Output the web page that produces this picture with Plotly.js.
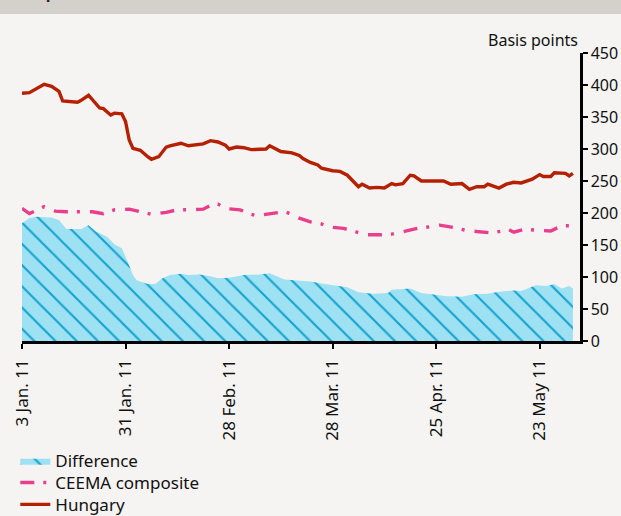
<!DOCTYPE html>
<html>
<head>
<meta charset="utf-8">
<script src="https://cdn.plot.ly/plotly-3.0.1.min.js"></script>
<style>html,body{margin:0;padding:0;background:#f5f4f2;}#chart{width:621px;height:516px;}</style>
</head>
<body>
<div id="chart"></div>
<script>
// Hungary CDS spread (basis points)
const hungaryDates = ['2011-01-03','2011-01-05','2011-01-09','2011-01-11','2011-01-13','2011-01-14','2011-01-18','2011-01-19','2011-01-21','2011-01-23','2011-01-24','2011-01-25','2011-01-27','2011-01-28','2011-01-30','2011-01-31','2011-02-01','2011-02-02','2011-02-04','2011-02-06','2011-02-07','2011-02-09','2011-02-11','2011-02-12','2011-02-15','2011-02-17','2011-02-20','2011-02-21','2011-02-23','2011-02-25','2011-02-27','2011-02-28','2011-03-02','2011-03-04','2011-03-06','2011-03-10','2011-03-11','2011-03-14','2011-03-17','2011-03-19','2011-03-20','2011-03-22','2011-03-24','2011-03-25','2011-03-28','2011-03-30','2011-04-01','2011-04-03','2011-04-04','2011-04-05','2011-04-07','2011-04-09','2011-04-11','2011-04-13','2011-04-14','2011-04-16','2011-04-18','2011-04-19','2011-04-21','2011-04-24','2011-04-27','2011-04-29','2011-05-02','2011-05-04','2011-05-06','2011-05-08','2011-05-09','2011-05-12','2011-05-14','2011-05-16','2011-05-18','2011-05-21','2011-05-23','2011-05-24','2011-05-26','2011-05-27','2011-05-30','2011-05-31','2011-06-01'];
const hungaryValues = [387,388,401,398,390,375,373,376,384,371,364,363,353,356,355,343,314,301,298,288,284,288,303,305,309,305,307,308,313,311,306,300,303,302,299,300,305,296,294,290,285,279,275,270,266,265,259,246,241,245,239,240,239,246,244,246,259,258,250,250,250,245,246,237,241,241,245,239,245,248,247,253,260,257,257,263,262,258,262];

// CEEMA composite (basis points)
const ceemaDates = ['2011-01-03','2011-01-05','2011-01-09','2011-01-12','2011-01-15','2011-01-19','2011-01-22','2011-01-25','2011-01-28','2011-02-01','2011-02-04','2011-02-07','2011-02-11','2011-02-14','2011-02-18','2011-02-21','2011-02-24','2011-02-25','2011-02-27','2011-03-03','2011-03-06','2011-03-08','2011-03-09','2011-03-12','2011-03-15','2011-03-17','2011-03-19','2011-03-22','2011-03-25','2011-03-27','2011-03-31','2011-04-03','2011-04-06','2011-04-10','2011-04-13','2011-04-17','2011-04-20','2011-04-24','2011-04-26','2011-04-30','2011-05-03','2011-05-06','2011-05-10','2011-05-13','2011-05-14','2011-05-16','2011-05-19','2011-05-22','2011-05-26','2011-05-29','2011-06-01'];
const ceemaValues = [207,199,210,203,202,202,202,199,205,206,202,198,201,205,205,206,215,214,207,205,198,195,197,200,202,198,192,186,183,178,176,171,166,166,167,172,176,179,181,177,173,171,169,172,176,170,175,173,172,180,180];

// Difference (basis points)
const diffDates = ['2011-01-03','2011-01-05','2011-01-07','2011-01-11','2011-01-13','2011-01-15','2011-01-19','2011-01-21','2011-01-23','2011-01-26','2011-01-28','2011-01-30','2011-01-31','2011-02-02','2011-02-03','2011-02-06','2011-02-08','2011-02-10','2011-02-12','2011-02-15','2011-02-17','2011-02-20','2011-02-23','2011-02-25','2011-02-28','2011-03-04','2011-03-08','2011-03-11','2011-03-15','2011-03-18','2011-03-22','2011-03-25','2011-03-29','2011-04-01','2011-04-04','2011-04-08','2011-04-12','2011-04-13','2011-04-15','2011-04-18','2011-04-21','2011-04-25','2011-04-28','2011-05-02','2011-05-05','2011-05-09','2011-05-12','2011-05-16','2011-05-18','2011-05-22','2011-05-25','2011-05-27','2011-05-29','2011-05-31','2011-06-01'];
const diffValues = [184,192,194,193,189,175,175,181,171,163,151,145,132,103,95,89,89,98,103,105,103,104,101,98,99,103,104,106,96,95,93,90,86,84,76,74,75,80,81,82,75,72,70,69,73,74,77,79,78,87,86,89,82,86,82];

// Axis ticks
const xTickVals = ['2011-01-03','2011-01-31','2011-02-28','2011-03-28','2011-04-25','2011-05-23'];
const xTickText = ['3 Jan. 11','31 Jan. 11','28 Feb. 11','28 Mar. 11','25 Apr. 11','23 May 11'];
const yTickVals = [0,50,100,150,200,250,300,350,400,450];

const FONT = 'Noto Sans, Open Sans, DejaVu Sans, sans-serif';

const traces = [
  {
    x: diffDates, y: diffValues, name: 'Difference', type: 'scatter', mode: 'lines',
    fill: 'tozeroy', legend: 'legend',
    line: {width: 0, color: '#1a9fcc'},
    fillcolor: '#9ee1f3',
    fillpattern: {shape: '\\', bgcolor: '#9ee1f3', fgcolor: '#15a2cf', size: 15, solidity: 0.14}
  },
  {
    x: ceemaDates, y: ceemaValues, name: 'CEEMA composite', type: 'scatter', mode: 'lines',
    legend: 'legend2',
    line: {color: '#ea3d8c', width: 3.4, dash: '14px,9px,3px,10px'}
  },
  {
    x: hungaryDates, y: hungaryValues, name: 'Hungary', type: 'scatter', mode: 'lines',
    legend: 'legend3',
    line: {color: '#b52000', width: 3.4}
  }
];

function legendAt(yPaper) {
  return {
    x: -0.012, xanchor: 'left', y: yPaper, yanchor: 'middle',
    orientation: 'v', bgcolor: 'rgba(0,0,0,0)', borderwidth: 0,
    font: {family: FONT, size: 17, color: '#111111'},
    itemwidth: 30
  };
}

const layout = {
  width: 621, height: 516,
  margin: {l: 22, r: 41, t: 53, b: 175, pad: 0, autoexpand: false},
  paper_bgcolor: '#f5f4f2', plot_bgcolor: '#f5f4f2',
  font: {family: FONT, size: 16, color: '#111111'},
  showlegend: true,
  legend: legendAt(-0.417),
  legend2: legendAt(-0.493),
  legend3: legendAt(-0.569),
  xaxis: {
    type: 'date', automargin: false,
    range: ['2011-01-03', '2011-06-02 22:00'],
    tickmode: 'array', tickvals: xTickVals, ticktext: xTickText,
    tickangle: -90, ticklabelstandoff: 4,
    ticks: 'outside', ticklen: 5, tickwidth: 2, tickcolor: '#000',
    showline: true, linecolor: '#000', linewidth: 2.5,
    showgrid: false, zeroline: false,
    tickfont: {family: FONT, size: 17, color: '#111111'},
    fixedrange: true
  },
  yaxis: {
    side: 'right', automargin: false,
    range: [0, 450],
    tickmode: 'array', tickvals: yTickVals,
    ticks: 'outside', ticklen: 5, tickwidth: 2, tickcolor: '#000',
    showline: true, linecolor: '#000', linewidth: 2.5,
    showgrid: false, zeroline: false,
    tickfont: {family: FONT, size: 16, color: '#111111'},
    fixedrange: true
  },
  shapes: [
    {type: 'rect', xref: 'paper', yref: 'paper', x0: -0.05, x1: 1.08, y0: 1.135, y1: 1.2,
     fillcolor: '#d4d0cc', line: {width: 0}, layer: 'below'}
  ],
  annotations: [
    {text: 'Basis points', xref: 'paper', yref: 'paper', x: 1.0, xanchor: 'right',
     y: 1.045, yanchor: 'middle', showarrow: false,
     font: {family: FONT, size: 16, color: '#111111'}},
    {text: '<b>composite</b>', xref: 'paper', yref: 'paper', x: -0.022, xanchor: 'left',
     y: 1.167, yanchor: 'bottom', showarrow: false,
     font: {family: FONT, size: 16, color: '#222222'}}
  ]
};

Plotly.newPlot('chart', traces, layout, {displayModeBar: false, staticPlot: true});
</script>
</body>
</html>
